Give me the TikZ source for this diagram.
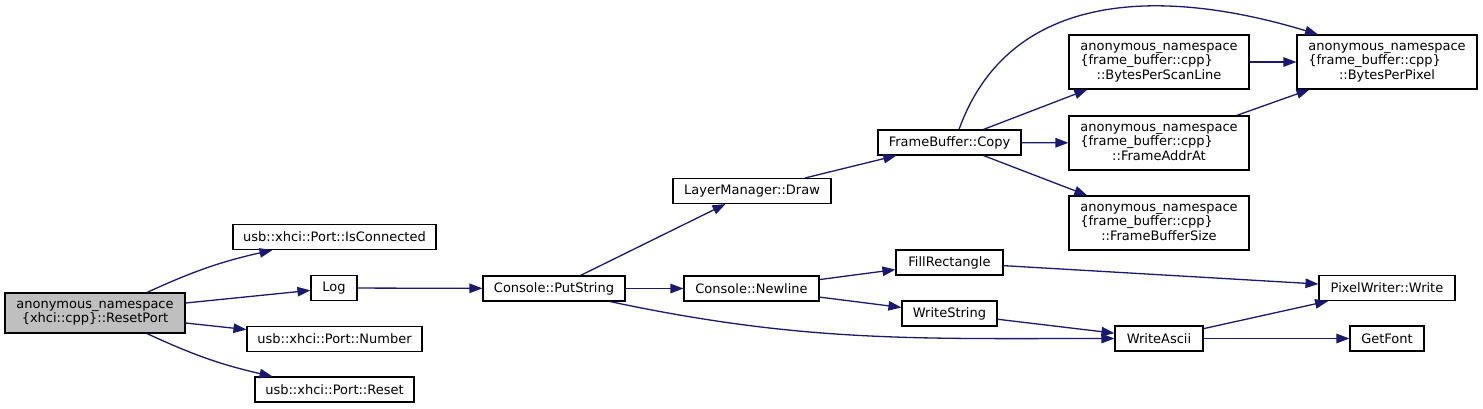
\documentclass[tikz,border=0pt]{standalone}
\usepackage{fontspec}
\setmainfont{DejaVu Sans}
\usepackage{xcolor}
\usetikzlibrary{arrows.meta}

\definecolor{edgeblue}{HTML}{191970}
\definecolor{rootgray}{HTML}{BFBFBF}

% three-line label of the frame_buffer helpers
\newcommand{\fbfunc}[1]{%
  \begin{tabular}{@{}l@{}}anonymous\_namespace\\\{frame\_buffer::cpp\}\\
  \multicolumn{1}{@{}c@{}}{::#1}\end{tabular}}

\begin{document}
\begin{tikzpicture}[x=1pt, y=1pt,
    fn/.style={draw=black, line width=1.1pt, inner xsep=2pt, inner ysep=0pt,
      minimum height=25pt, font=\fontsize{13}{14.5}\selectfont},
    ns/.style={fn, minimum width=180pt, minimum height=54pt},
    call/.style={edgeblue, line width=1.3pt, -{Triangle[length=13pt, width=9.5pt]}}]

    \useasboundingbox (0,0) rectangle (1483,-408);

    % Root function
    \node[fn, fill=rootgray, minimum width=180pt, minimum height=40pt, align=center]
        (resetport) at (95,-313) {anonymous\_namespace\\\{xhci::cpp\}::ResetPort};

    % Called from ResetPort
    \node[fn, minimum width=203pt] (isconn) at (334.5,-237) {usb::xhci::Port::IsConnected};
    \node[fn, minimum width=46pt] (log) at (334,-288) {Log};
    \node[fn, minimum width=175pt] (number) at (334.5,-339) {usb::xhci::Port::Number};
    \node[fn, minimum width=159pt] (portreset) at (334.5,-389.5) {usb::xhci::Port::Reset};

    % Console
    \node[fn, minimum width=142pt] (putstring) at (554,-288.5) {Console::PutString};
    \node[fn, minimum width=158pt] (lmdraw) at (752,-191) {LayerManager::Draw};
    \node[fn, minimum width=135pt] (newline) at (751.5,-288.5) {Console::Newline};

    % Drawing
    \node[fn, minimum width=143pt] (fbcopy) at (949.5,-142.5) {FrameBuffer::Copy};
    \node[fn, minimum width=107pt] (fillrect) at (949.5,-262.5) {FillRectangle};
    \node[fn, minimum width=95pt] (writestring) at (949.5,-313.5) {WriteString};
    \node[ns] (bpsl) at (1159,-62) {\fbfunc{BytesPerScanLine}};
    \node[ns] (frameaddr) at (1159,-143) {\fbfunc{FrameAddrAt}};
    \node[ns] (fbsize) at (1159,-223) {\fbfunc{FrameBufferSize}};
    \node[fn, minimum width=88pt] (writeascii) at (1159,-338.5) {WriteAscii};
    \node[ns] (bpp) at (1387,-62) {\fbfunc{BytesPerPixel}};
    \node[fn, minimum width=136pt] (pwwrite) at (1387,-288) {PixelWriter::Write};
    \node[fn, minimum width=74pt] (getfont) at (1387,-338.5) {GetFont};

    % Calls
    \draw[call] ([xshift=52pt]resetport.north) to[bend left=6] ([xshift=-62pt]isconn.south);
    \draw[call] ([yshift=10pt]resetport.east) -- (log);
    \draw[call] ([yshift=-10pt]resetport.east) -- (number);
    \draw[call] ([xshift=52pt]resetport.south) to[bend right=6] ([xshift=-62pt]portreset.north);
    \draw[call] (log) -- (putstring);
    \draw[call] (putstring) -- (lmdraw);
    \draw[call] (putstring) -- (newline);
    \draw[call] ([xshift=56pt]putstring.south) to[out=-12, in=180] (writeascii.west);
    \draw[call] (lmdraw) -- (fbcopy);
    \draw[call] (fbcopy) -- (bpsl);
    \draw[call] (fbcopy) -- (frameaddr);
    \draw[call] (fbcopy) -- (fbsize);
    \draw[call] ([xshift=9.5pt]fbcopy.north) .. controls (1010,12) and (1165,12) .. ([xshift=-69pt]bpp.north);
    \draw[call] (bpsl) -- (bpp);
    \draw[call] (frameaddr) -- (bpp);
    \draw[call] (newline) -- (fillrect);
    \draw[call] (newline) -- (writestring);
    \draw[call] (fillrect) -- (pwwrite);
    \draw[call] (writestring) -- (writeascii);
    \draw[call] (writeascii) -- (pwwrite);
    \draw[call] (writeascii) -- (getfont);

\end{tikzpicture}
\end{document}
